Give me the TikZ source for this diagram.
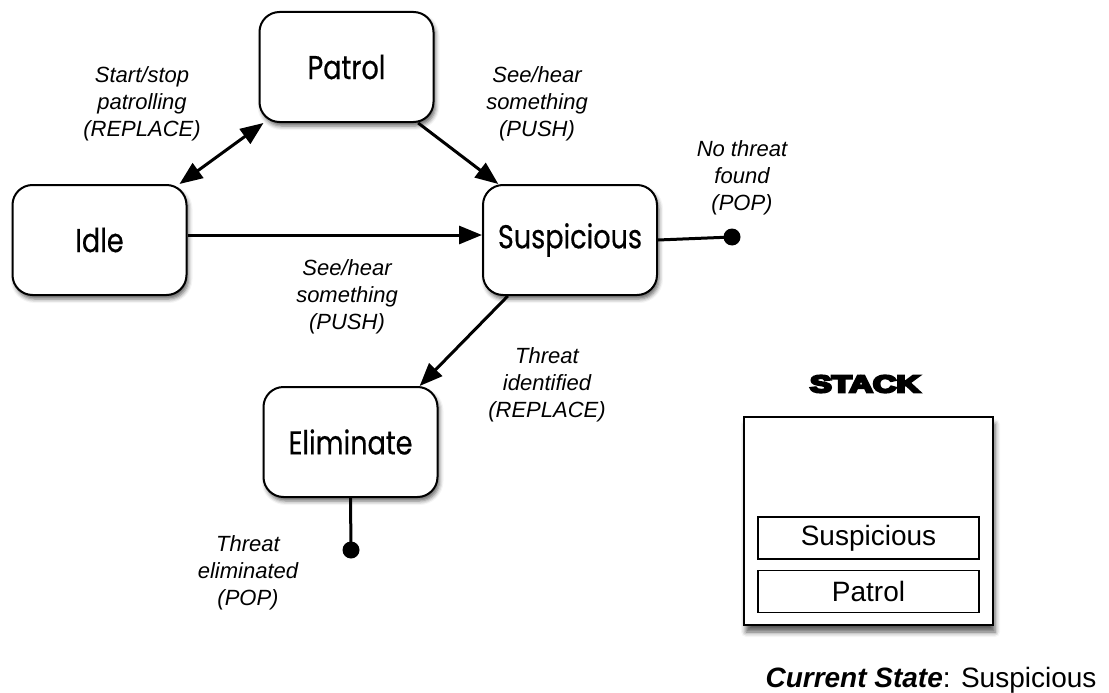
\documentclass[tikz,border=0pt]{standalone}
\usepackage{fontspec}
\usepackage{graphicx}
\setmainfont{Liberation Sans}
\newfontfamily\statefont[FakeStretch=0.82,FakeBold=0.4]{Poppins}
\newfontfamily\heavyfont{Liberation Sans Bold}
\usetikzlibrary{arrows.meta,shadows.blur}

% outlined-and-filled text for the heavy title lettering
\newcommand\heavytext[1]{%
  \special{pdf:literal direct 2 Tr 2.2 w}#1\special{pdf:literal direct 0 Tr 1 w}}

\tikzset{
  state/.style={draw, line width=2pt, rounded corners=20pt,
    minimum width=174pt, minimum height=110pt, fill=white,
    blur shadow={shadow xshift=2pt, shadow yshift=-4pt,
      shadow blur radius=4pt, shadow opacity=60},
    font=\statefont\fontsize{33}{38}\selectfont},
  trans/.style={font=\itshape\fontsize{22}{27}\selectfont, align=center},
  link/.style={line width=3pt},
  tip/.style={-{Triangle[length=23pt,width=18pt]}},
  bothtips/.style={{Triangle[length=23pt,width=18pt]}-{Triangle[length=23pt,width=18pt]}},
  popdot/.style={circle, fill=black, inner sep=0pt, minimum size=17pt},
  stackbox/.style={draw, line width=2pt, fill=white,
    minimum width=249pt, minimum height=208pt,
    blur shadow={shadow xshift=2pt, shadow yshift=-7pt,
      shadow blur radius=5pt, shadow opacity=65}},
  entry/.style={draw, line width=1.8pt, minimum width=221pt,
    minimum height=42pt, font=\fontsize{28}{32}\selectfont}
}

\begin{document}
\begin{tikzpicture}[x=1pt, y=-1pt]
\useasboundingbox (0,0) rectangle (1109,693);

% states
\node[state] (patrol) at (346.5,67) {Patrol};
\node[state] (idle)   at (99.5,240) {Idle};
\node[state] (susp)   at (570,240)  {Suspicious};
\node[state] (elim)   at (350.5,442) {Eliminate};

% end points of the pop transitions
\node[popdot] (nothreat) at (732,237) {};
\node[popdot] (elimdone) at (351,550) {};

% transitions
\draw[link, bothtips] (patrol.214) -- (idle.35.4);
\draw[link, tip] (patrol.322) -- (susp.142.5);
\draw[link, tip] ([yshift=5pt]idle.east) -- ([yshift=5pt]susp.west);
\draw[link, tip] (susp.222) -- (elim.39);
\draw[link] (susp.east) -- (nothreat.center);
\draw[link] (elim.south) -- (elimdone.center);

% transition labels
\node[trans] (l1) at (142,104) {Start/stop\\patrolling\\(REPLACE)};
\node[trans] (l2) at (537,104) {See/hear\\something\\(PUSH)};
\node[trans] (l3) at (742,178) {No threat\\found\\(POP)};
\node[trans] (l4) at (347,297) {See/hear\\something\\(PUSH)};
\node[trans] (l5) at (547,385) {Threat\\identified\\(REPLACE)};
\node[trans] (l6) at (248,573) {Threat\\eliminated\\(POP)};

% stack
\node[inner sep=0pt] (stacktitle) at (865,384)
  {\scalebox{1.36}[1]{\heavyfont\fontsize{24}{28}\selectfont\heavytext{STACK}}};
\node[stackbox] (stack) at (868.5,521) {};
\node[entry] (e1) at (868.5,538) {Suspicious};
\node[entry] (e2) at (868.5,591.5) {Patrol};

\node[font=\fontsize{28}{32}\selectfont] (current) at (931,680)
  {{\bfseries\itshape Current State}: Suspicious};
\end{tikzpicture}
\end{document}
